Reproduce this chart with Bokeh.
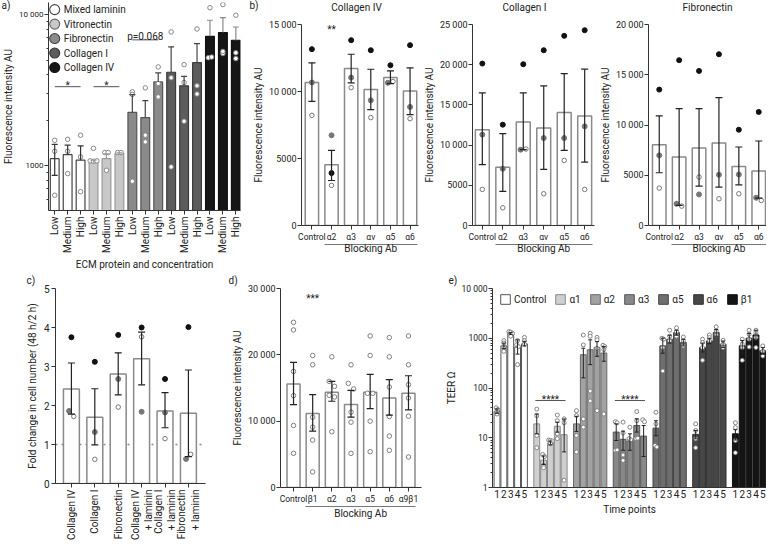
import math
from bokeh.plotting import figure
from bokeh.layouts import row, column
from bokeh.models import (ColumnDataSource, Whisker, TeeHead, Label, Span, LinearAxis,
                          FixedTicker, Legend, LegendItem, Range1d)
from bokeh.embed import file_html
from bokeh.resources import INLINE

# ====================== DATA ======================
a_proteins = ["Mixed laminin", "Vitronectin", "Fibronectin", "Collagen I", "Collagen IV"]
a_levels = ["Low", "Medium", "High"]
a_mean = [1110, 1180, 1085, 1045, 1110, 1200, 2250, 2080, 3580, 4150, 3375, 4800, 7180, 7610, 6760]
a_upper = [1380, 1365, 1350, 1085, 1195, 1215, 2950, 2690, 4110, 6110, 3900, 6420, 9170, 9540, 8270]
a_lower = [860, 1180, 1085, 1045, 1110, 1200, 2250, 2080, 3580, 4150, 3375, 4800, 7180, 7610, 6760]
a_points = [[1470, 1244, 636], [1493, 1244, 885], [1587, 1141, 672], [1300, 1075, 1068, 1075],
            [1220, 1220, 930], [1220, 1220], [3080, 2960, 787], [3270, 1590, 1435],
            [4500, 3490, 2850], [7670, 3815, 980], [4660, 3550, 1965], [8030, 3375, 2980],
            [11100, 5180, 5230], [11650, 5520, 5700], [9900, 5580, 5110]]
a_sig_pairs = [(0, 2), (3, 5), (6, 8)]
a_sig_y = [3330, 3330, 6800]
a_sig_text = ["*", "*", "p=0.068"]
a_yticks = [1000, 10000]
a_yticklabels = ["1000", "10 000"]

b_blocking = ["Control", "α2", "α3", "αv", "α5", "α6"]
b4_mean = [10670, 4530, 11710, 10140, 11040, 10040]
b4_up = [12140, 5610, 12780, 11660, 11540, 11760]
b4_lo = [9270, 3360, 10640, 8650, 10590, 8270]
b4_r1 = [13160, 3910, 13830, 13080, 11960, 13460]
b4_r2 = [10670, 6730, 11040, 9340, 10650, 8850]
b4_r3 = [8220, 2990, 10290, 8050, 10750, 7970]
b4_yticks = [0, 5000, 10000, 15000]
b4_yticklabels = ["0", "5000", "10 000", "15 000"]

b1_mean = [11920, 7230, 12870, 12130, 14040, 13620]
b1_up = [16490, 11420, 16490, 17360, 18900, 19440]
b1_lo = [7560, 4240, 9430, 6980, 9340, 7890]
b1_r1 = [20140, 12540, 20060, 21800, 23590, 24290]
b1_r2 = [11300, 7060, 9430, 10880, 10880, 12330]
b1_r3 = [4490, 2200, 9510, 3950, 8100, 4490]
b1_yticks = [0, 5000, 10000, 15000, 20000, 25000]
b1_yticklabels = ["0", "5000", "10 000", "15 000", "20 000", "25 000"]

bf_mean = [8040, 6810, 7710, 8210, 5880, 5420]
bf_up = [10900, 11630, 11630, 12720, 7810, 8410]
bf_lo = [5250, 2000, 3920, 3820, 4050, 2720]
bf_r1 = [13520, 16450, 15380, 17040, 9530, 11300]
bf_r2 = [6980, 2160, 3090, 5050, 5080, 2760]
bf_r3 = [3720, 1930, 4820, 2660, 3160, 2490]
bf_yticks = [0, 5000, 10000, 15000, 20000]
bf_yticklabels = ["0", "5000", "10 000", "15 000", "20 000"]

c_labels = ["Collagen IV", "Collagen I", "Fibronectin", "Collagen IV\n+ laminin",
            "Collagen I\n+ laminin", "Fibronectin\n+ laminin"]
c_mean = [2.42, 1.70, 2.81, 3.20, 1.86, 1.80]
c_up = [3.09, 2.43, 3.35, 3.88, 2.33, 2.91]
c_lo = [1.78, 0.99, 2.27, 2.53, 1.43, 0.69]
c_r1 = [3.75, 3.12, 3.81, 4.00, 2.68, 4.01]
c_r2 = [1.86, 1.32, 2.68, 1.84, 1.82, 0.63]
c_r3 = [1.72, 0.62, 1.96, 3.76, 1.15, 0.75]
c_yticks = [0, 1, 2, 3, 4, 5]

d_labels = ["Control", "β1", "α2", "α3", "α5", "α6", "α9β1"]
d_mean = [15600, 11150, 14350, 12500, 14350, 13500, 14200]
d_up = [18850, 14000, 16000, 14650, 17050, 16250, 16850]
d_lo = [12500, 8500, 13000, 10600, 11900, 10900, 11700]
d_points = [[24900, 23750, 17500, 13850, 9350, 5150],
            [19900, 18500, 10600, 9100, 7150, 2350],
            [19700, 16000, 15250, 13900, 13650, 8400],
            [18500, 15700, 14850, 11350, 9850, 5150],
            [22850, 19900, 14200, 14200, 10000, 5400],
            [22600, 19700, 15150, 10700, 7750, 5600],
            [22850, 18500, 15500, 13500, 10750, 4600]]
d_yticks = [0, 10000, 20000, 30000]
d_yticklabels = ["0", "10 000", "20 000", "30 000"]

e_groups = ["Control", "α1", "α2", "α3", "α5", "α6", "β1"]
e_times = ["1", "2", "3", "4", "5"]
e_mean = [[34, 704, 1256, 662, 770],
          [19, 3.55, 7.8, 17, 11.5],
          [19, 467, 587, 653, 504],
          [13, 9.3, 8.6, 17.6, 10.8],
          [15.6, 703, 955, 1300, 820],
          [11.7, 650, 885, 1300, 760],
          [12, 703, 1000, 1167, 558]]
e_up = [[38, 800, 1300, 930, 870],
        [30, 4.3, 8.6, 20.5, 23.8],
        [27, 630, 930, 855, 680],
        [19, 13.6, 12, 24, 17.6],
        [22, 1000, 1150, 1450, 950],
        [14, 800, 1000, 1500, 880],
        [14.5, 900, 1250, 1450, 650]]
e_lo = [[31, 620, 1200, 480, 700],
        [12, 2.9, 7.2, 13, 5.2],
        [13.4, 160, 295, 434, 345],
        [8.8, 5.6, 5.6, 13, 4.2],
        [11, 500, 800, 1150, 700],
        [9.5, 530, 780, 1100, 650],
        [9, 500, 800, 900, 480]]
e_points = [
    [[40, 37, 33, 30], [895, 800, 630, 545], [1360, 1330, 1256, 1100], [895, 735, 680, 295], [1040, 895, 760]],
    [[37.6, 27.7, 11.1, 6.3], [4.6, 4.2, 2.8, 2.5], [9.0, 8.8, 8.6, 7.6], [28.6, 22, 12, 9.6], [24, 20, 1.4]],
    [[35, 28, 11.1, 5.2], [1160, 735, 23.8, 16.3], [1256, 1100, 87, 55], [1040, 930, 630, 35], [720, 680, 590, 30]],
    [[21, 20, 5.6, 5.7], [20.6, 12.4, 4.5, 3.5], [16.3, 9.6, 9.1], [33.6, 22, 9.6, 9.8], [23, 21]],
    [[32.5, 19, 7, 6.5], [1000, 955, 650, 220], [1450, 1100, 890], [1620, 1360, 1100], [1060, 890, 700]],
    [[19, 14, 9.5, 6.3], [955, 820, 650, 360], [1160, 1030, 890], [1700, 1400, 1160], [910, 760, 650]],
    [[20, 16, 8.8, 5], [955, 760, 650, 360], [1450, 1200, 955, 670], [1450, 1300, 1040, 650], [700, 550, 440]],
]
e_sig_groups = [1, 3]
e_sig_y = [56, 56]
e_yticks = [1, 10, 100, 1000, 10000]
e_yticklabels = ["1", "10", "100", "1000", "10 000"]

# ====================== STYLE ======================
FONT = "Roboto"
TXT = "#222222"
AX = "#333333"
A_FILL = ["#ffffff", "#c8c8c8", "#8a8a8a", "#5c5c5c", "#161616"]
A_LINE = ["#444444", "#9a9a9a", "#555555", "#3c3c3c", "#111111"]
A_WHISK = ["#333333", "#999999", "#444444", "#444444", "#8a8a8a"]
E_FILL = ["#ffffff", "#cfcfcf", "#a2a2a2", "#888888", "#6e6e6e", "#474747", "#141414"]
E_LINE = ["#555555", "#8a8a8a", "#6a6a6a", "#555555", "#444444", "#333333", "#111111"]
H_TOP, H_BOT = 275, 268


def base_fig(w, h, bl, br, bt, bb, xr, yr, ylog=False):
    p = figure(width=w, height=h, x_range=Range1d(*xr), y_range=Range1d(*yr),
               y_axis_type="log" if ylog else "linear", output_backend="svg",
               toolbar_location=None, title=None, min_border_left=bl, min_border_right=br,
               min_border_top=bt, min_border_bottom=bb)
    p.outline_line_color = None
    p.grid.visible = False
    p.background_fill_color = "white"
    p.border_fill_color = "white"
    return p


def style_axis(ax, size="9.5px"):
    ax.axis_line_color = AX
    ax.axis_line_width = 1
    ax.major_tick_line_color = AX
    ax.minor_tick_line_color = AX
    ax.major_tick_in = 0
    ax.major_tick_out = 4
    ax.minor_tick_in = 0
    ax.minor_tick_out = 2
    ax.major_label_text_font = FONT
    ax.major_label_text_font_size = size
    ax.major_label_text_color = TXT
    ax.axis_label_text_font = FONT
    ax.axis_label_text_font_size = "10px"
    ax.axis_label_text_color = TXT
    ax.axis_label_text_font_style = "normal"
    ax.major_label_standoff = 2
    ax.axis_label_standoff = 3


def set_ticks(ax, ticks, labels, minor=None):
    ax.ticker = FixedTicker(ticks=list(ticks), minor_ticks=list(minor or []))
    ax.major_label_overrides = {t: l for t, l in zip(ticks, labels)}


def mk_label(x, y, s, size="10px", xu="canvas", yu="canvas", align="center",
             baseline="middle", x_offset=0):
    return Label(x=x, y=y, x_units=xu, y_units=yu, text=s, text_font=FONT,
                 text_font_size=size, text_color=TXT, text_align=align,
                 text_baseline=baseline, x_offset=x_offset)


def add_whisker(p, xs, lo, up, color, head=6, lw=1.2, top=True, bottom=True):
    src = ColumnDataSource(dict(x=list(xs), lo=list(lo), up=list(up)))
    w = Whisker(source=src, base="x", lower="lo", upper="up", dimension="height",
                line_color=color, line_width=lw, level="annotation",
                upper_head=TeeHead(size=head, line_color=color, line_width=lw) if top else None,
                lower_head=TeeHead(size=head, line_color=color, line_width=lw) if bottom else None)
    p.add_layout(w)


def spread(vals, tol, log=False, step=0.22):
    offs = [0.0] * len(vals)
    used = [False] * len(vals)
    for i in range(len(vals)):
        if used[i]:
            continue
        grp = [i]
        for j in range(i + 1, len(vals)):
            if used[j]:
                continue
            d = abs(math.log10(vals[j]) - math.log10(vals[i])) if log else abs(vals[j] - vals[i])
            if d < tol:
                grp.append(j)
        for k, idx in enumerate(grp):
            used[idx] = True
            offs[idx] = (k - (len(grp) - 1) / 2) * step
    return offs


def blocking_line(p, lo, hi, text_y):
    ax2 = LinearAxis(ticker=FixedTicker(ticks=[]), bounds=(lo, hi))
    ax2.major_label_text_font_size = "0px"
    ax2.major_tick_out = 0
    ax2.minor_tick_out = 0
    ax2.major_label_standoff = 0
    ax2.axis_label_standoff = 0
    ax2.axis_line_color = "#777777"
    ax2.axis_line_width = 1.2
    p.add_layout(ax2, "below")
    p.add_layout(mk_label((lo + hi) / 2, text_y, "Blocking Ab", xu="data", yu="canvas"), "below")


# ====================== PANEL a ======================
A_YMIN, A_YMAX = 504, 12020
pa = base_fig(249, H_TOP, 40, 9, 2, 65, (-0.48, 14.36), (A_YMIN, A_YMAX), ylog=True)
ax_x = list(range(len(a_mean)))
src_a = ColumnDataSource(dict(x=ax_x, top=a_mean,
                              fill=[A_FILL[i // 3] for i in ax_x],
                              line=[A_LINE[i // 3] for i in ax_x]))
pa.vbar(x="x", top="top", bottom=A_YMIN, width=0.68, fill_color="fill", line_color="line",
        line_width=1.2, source=src_a)
for g in range(5):
    idx = [i for i in ax_x if i // 3 == g]
    add_whisker(pa, idx, [a_mean[i] for i in idx], [a_upper[i] for i in idx], A_WHISK[g],
                head=6, bottom=False)
    low = [i for i in idx if a_lower[i] < a_mean[i]]
    if low:
        add_whisker(pa, low, [a_lower[i] for i in low], [a_mean[i] for i in low], A_WHISK[g],
                    head=6, top=False)
px, py = [], []
for x, vals in zip(ax_x, a_points):
    offs = spread(vals, 0.012, log=True, step=0.26)
    px += [x + o for o in offs]
    py += vals
pa.scatter(px, py, marker="circle", size=4.5, fill_color="white", line_color="#888888",
           line_width=1)
for (i0, i1), yv, t in zip(a_sig_pairs, a_sig_y, a_sig_text):
    pa.segment(x0=[i0], x1=[i1], y0=[yv], y1=[yv], line_color="#555555", line_width=1)
    pa.add_layout(mk_label((i0 + i1) / 2, yv * (1.015 if t == "*" else 1.06), t, xu="data",
                           yu="data", baseline="alphabetic"))
style_axis(pa.xaxis[0], "10px")
style_axis(pa.yaxis[0], "8px")
pa.yaxis[0].major_label_standoff = 1
pa.yaxis[0].axis_label_standoff = 2
set_ticks(pa.xaxis[0], ax_x, [a_levels[i % 3] for i in ax_x])
pa.xaxis[0].major_label_orientation = math.pi / 2
pa.xaxis[0].axis_label = "ECM protein and concentration"
set_ticks(pa.yaxis[0], a_yticks, a_yticklabels,
          [k * 10 ** d for d in (2, 3) for k in range(2, 10) if A_YMIN <= k * 10 ** d <= A_YMAX])
pa.yaxis[0].axis_label = "Fluorescence intensity AU"
LEG_TOP, LEG_STEP = 10.0 ** 4.033, 10.0 ** -0.096
leg_y = [LEG_TOP * LEG_STEP ** k for k in range(len(a_proteins))]
leg_line = ["#444444", "#666666", "#444444", "#333333", "#111111"]
pa.scatter([0] * len(a_proteins), leg_y, marker="circle", size=10, fill_color=A_FILL,
           line_color=leg_line, line_width=1.1)
for name, yv in zip(a_proteins, leg_y):
    pa.add_layout(mk_label(0, yv, name, xu="data", yu="data", align="left", x_offset=9))
pa.add_layout(mk_label(1, 5, "a)", align="left"), "right")


# ====================== PANEL b ======================
def panel_b(w, bl, br, xr, title, title_x, mean, up, lo, r1, r2, r3, yticks, yticklabels,
            letter=None, sig=None):
    ymax = yticks[-1]
    p = base_fig(w, H_TOP, bl, br, 24, 50, xr, (0, ymax))
    xs = list(range(len(mean)))
    p.vbar(x=xs, top=mean, bottom=0, width=0.68, fill_color="white", line_color="#8a8a8a",
           line_width=1.5)
    add_whisker(p, xs, lo, up, "#222222", head=7, lw=1.2)
    pts = {0: ([], []), 1: ([], []), 2: ([], [])}
    for i in xs:
        vals = [r1[i], r2[i], r3[i]]
        offs = spread(vals, 0.03 * ymax, step=0.26)
        for k in range(3):
            pts[k][0].append(i + offs[k])
            pts[k][1].append(vals[k])
    p.scatter(pts[0][0], pts[0][1], marker="circle", size=5, fill_color="#111111",
              line_color="#111111")
    p.scatter(pts[1][0], pts[1][1], marker="circle", size=5, fill_color="#777777",
              line_color="#777777")
    p.scatter(pts[2][0], pts[2][1], marker="circle", size=4.5, fill_color="white",
              line_color="#777777", line_width=1)
    style_axis(p.xaxis[0], "8.5px")
    style_axis(p.yaxis[0], "9px")
    p.yaxis[0].major_label_standoff = 1
    p.yaxis[0].axis_label_standoff = 2
    set_ticks(p.xaxis[0], xs, b_blocking)
    set_ticks(p.yaxis[0], yticks, yticklabels)
    p.yaxis[0].axis_label = "Fluorescence intensity AU"
    blocking_line(p, 1 - 0.38, xs[-1] + 0.38, 248)
    p.add_layout(mk_label(title_x, 7, title), "above")
    if letter:
        p.add_layout(mk_label(letter[1], 5, letter[0], align="left"), "below")
    if sig:
        p.add_layout(mk_label(sig[0], sig[1], sig[2], xu="data", yu="data",
                              baseline="alphabetic"))
    return p


pb1 = panel_b(171, 45, 2, (-0.53, 5.43), "Collagen IV", 107, b4_mean, b4_up, b4_lo,
              b4_r1, b4_r2, b4_r3, b4_yticks, b4_yticklabels, letter=("b)", 0),
              sig=(1, 14600, "**"))
pb2 = panel_b(176, 49, 2, (-0.48, 5.48), "Collagen I", 104, b1_mean, b1_up, b1_lo,
              b1_r1, b1_r2, b1_r3, b1_yticks, b1_yticklabels)
pb3 = panel_b(170, 49, 0, (-0.54, 5.39), "Fibronectin", 111, bf_mean, bf_up, bf_lo,
              bf_r1, bf_r2, bf_r3, bf_yticks, bf_yticklabels)

# ====================== PANEL c ======================
pc = base_fig(228, H_BOT, 55, 23, 13, 56, (-0.68, 5.73), (0, 5))
cx = list(range(len(c_mean)))
pc.vbar(x=cx, top=c_mean, bottom=0, width=0.68, fill_color="white", line_color="#8a8a8a",
        line_width=1.5)
pc.add_layout(Span(location=1, dimension="width", line_color="#8a8a8a", line_width=1.3,
                   line_dash="dotted", level="underlay"))
add_whisker(pc, cx, c_lo, c_up, "#222222", head=7, lw=1.2)
pts = {0: ([], []), 1: ([], []), 2: ([], [])}
for i in cx:
    vals = [c_r1[i], c_r2[i], c_r3[i]]
    offs = spread(vals, 0.15, step=0.2)
    for k in range(3):
        pts[k][0].append(i + offs[k])
        pts[k][1].append(vals[k])
pc.scatter(pts[0][0], pts[0][1], marker="circle", size=5, fill_color="#111111", line_color="#111111")
pc.scatter(pts[1][0], pts[1][1], marker="circle", size=5, fill_color="#777777", line_color="#777777")
pc.scatter(pts[2][0], pts[2][1], marker="circle", size=4.5, fill_color="white",
           line_color="#777777", line_width=1)
style_axis(pc.xaxis[0], "10px")
style_axis(pc.yaxis[0], "10px")
set_ticks(pc.xaxis[0], cx, c_labels)
pc.xaxis[0].major_label_orientation = math.pi / 2
set_ticks(pc.yaxis[0], c_yticks, [str(t) for t in c_yticks])
pc.yaxis[0].axis_label = "Fold change in cell number (48 h/2 h)"
pc.add_layout(mk_label(26, 5, "c)", align="left"), "above")

# ====================== PANEL d ======================
pd_ = base_fig(214, H_BOT, 42, 21, 13, 56, (-0.68, 6.68), (0, 30000))
dx = list(range(len(d_mean)))
pd_.vbar(x=dx, top=d_mean, bottom=0, width=0.68, fill_color="white", line_color="#8a8a8a",
         line_width=1.5)
add_whisker(pd_, dx, d_lo, d_up, "#222222", head=7, lw=1.2)
px, py = [], []
for x, vals in zip(dx, d_points):
    offs = spread(vals, 900, step=0.28)
    px += [x + o for o in offs]
    py += vals
pd_.scatter(px, py, marker="circle", size=4.5, fill_color="white", line_color="#808080",
            line_width=1)
style_axis(pd_.xaxis[0], "8.5px")
style_axis(pd_.yaxis[0], "9px")
pd_.yaxis[0].major_label_standoff = 1
pd_.yaxis[0].axis_label_standoff = 2
set_ticks(pd_.xaxis[0], dx, d_labels)
set_ticks(pd_.yaxis[0], d_yticks, d_yticklabels)
pd_.yaxis[0].axis_label = "Fluorescence intensity AU"
blocking_line(pd_, 1 - 0.38, dx[-1] + 0.38, 238)
pd_.add_layout(mk_label(1, 28500, "***", xu="data", yu="data", baseline="alphabetic"))
pd_.add_layout(mk_label(0, 5, "d)", align="left"), "above")

# ====================== PANEL e ======================
G_STEP, B_STEP = 29, 5
pe = base_fig(324, H_BOT, 44, 0, 13, 56, (-3.3, 196.7), (1, 10000), ylog=True)
e_items = []
all_x, all_lab = [], []
for g, name in enumerate(e_groups):
    xs = [g * G_STEP + i * B_STEP for i in range(len(e_times))]
    all_x += xs
    all_lab += e_times
    r = pe.vbar(x=xs, top=e_mean[g], bottom=1, width=4.3, fill_color=E_FILL[g],
                line_color=E_LINE[g], line_width=1)
    e_items.append(LegendItem(label=name, renderers=[r]))
    add_whisker(pe, xs, e_lo[g], e_up[g], "#222222", head=4, lw=1)
    px, py = [], []
    for x, vals in zip(xs, e_points[g]):
        offs = spread(vals, 0.04, log=True, step=1.3)
        px += [x + o for o in offs]
        py += vals
    pe.scatter(px, py, marker="circle", size=4, fill_color="white", line_color="#777777",
               line_width=0.9)
for g, yv in zip(e_sig_groups, e_sig_y):
    x0 = g * G_STEP
    x1 = g * G_STEP + (len(e_times) - 1) * B_STEP
    pe.segment(x0=[x0 - 1], x1=[x1 + 1], y0=[yv], y1=[yv], line_color="#555555", line_width=1)
    pe.add_layout(mk_label((x0 + x1) / 2, yv * 1.05, "****", xu="data", yu="data",
                           baseline="alphabetic"))
style_axis(pe.xaxis[0], "10px")
style_axis(pe.yaxis[0], "8.5px")
pe.yaxis[0].major_label_standoff = 1
pe.yaxis[0].axis_label_standoff = 2
pe.xaxis[0].major_tick_out = 0
set_ticks(pe.xaxis[0], all_x, all_lab)
pe.xaxis[0].axis_label = "Time points"
set_ticks(pe.yaxis[0], e_yticks, e_yticklabels,
          [k * 10 ** d for d in range(0, 4) for k in range(2, 10)])
pe.yaxis[0].axis_label = "TEER Ω"
pe.add_layout(Legend(items=e_items, orientation="horizontal", location=(7, 182),
                     glyph_width=12, glyph_height=12, label_height=12, label_width=8,
                     label_standoff=3, spacing=8, padding=0, margin=0,
                     background_fill_alpha=0, border_line_color=None, label_text_font=FONT,
                     label_text_font_size="10px", label_text_color=TXT))
pe.add_layout(mk_label(6, 5, "e)", align="left"), "above")

layout = column(row(column(pa), column(pb1), column(pb2), column(pb3)),
                row(column(pc), column(pd_), column(pe)))
open("out.html", "w").write(file_html(layout, INLINE))
